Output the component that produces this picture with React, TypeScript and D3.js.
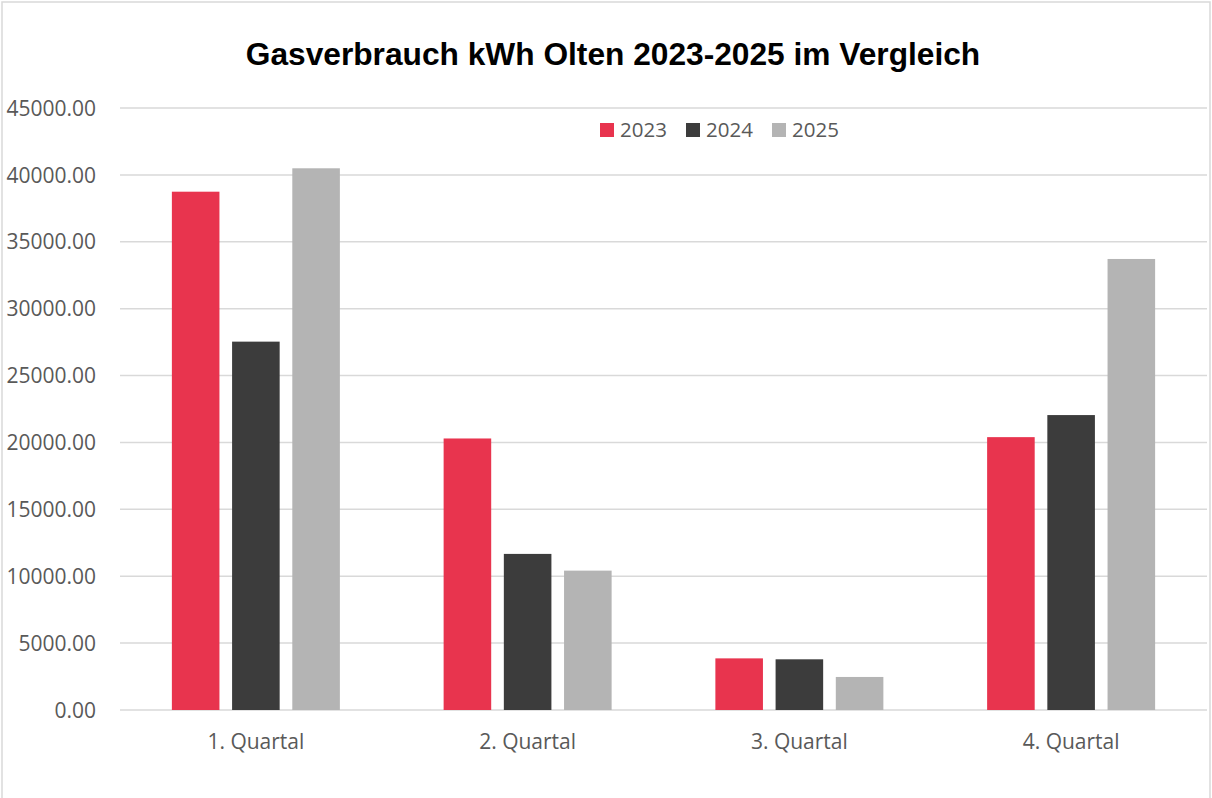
import React, { useEffect, useRef } from 'react'
import * as d3 from 'd3'

const quarters = ['1. Quartal', '2. Quartal', '3. Quartal', '4. Quartal']
const years = ['2023', '2024', '2025']
const values2023 = [38750, 20300, 3860, 20400]
const values2024 = [27540, 11670, 3790, 22050]
const values2025 = [40500, 10420, 2470, 33720]
const yTicks = [0, 5000, 10000, 15000, 20000, 25000, 30000, 35000, 40000, 45000]
const colors = ['#E8344E', '#3C3C3C', '#B4B4B4']

const W = 1212
const H = 798

const App = () => {
  const svgRef = useRef<SVGSVGElement>(null)

  useEffect(() => {
    const svg = d3.select(svgRef.current)
    svg.selectAll('*').remove()

    const series = [values2023, values2024, values2025]
    const data = quarters.map((q, i) => ({
      quarter: q,
      vals: years.map((y, j) => ({ year: y, value: series[j][i], idx: j })),
    }))

    const plot = { left: 120, right: 1207, top: 108.1, bottom: 710 }
    const font = '"Open Sans", sans-serif'

    // chart frame
    svg
      .append('rect')
      .attr('x', 2)
      .attr('y', 2)
      .attr('width', 1208)
      .attr('height', 820)
      .attr('fill', '#fff')
      .attr('stroke', '#D9D9D9')
      .attr('stroke-width', 1.5)

    const x0 = d3.scaleBand().domain(quarters).range([plot.left, plot.right])
    const groupW = 168
    const x1 = d3
      .scaleBand()
      .domain(years)
      .range([0, groupW])
      .paddingInner(0.21)
    const y = d3.scaleLinear().domain([0, 45000]).range([plot.bottom, plot.top])

    // gridlines
    svg
      .append('g')
      .selectAll('line')
      .data(yTicks)
      .enter()
      .append('line')
      .attr('x1', plot.left)
      .attr('x2', plot.right)
      .attr('y1', (d) => y(d))
      .attr('y2', (d) => y(d))
      .attr('stroke', '#D9D9D9')
      .attr('stroke-width', 1.5)

    // y labels
    svg
      .append('g')
      .selectAll('text')
      .data(yTicks)
      .enter()
      .append('text')
      .attr('x', 96)
      .attr('y', (d) => y(d))
      .attr('dy', '0.36em')
      .attr('text-anchor', 'end')
      .attr('font-family', font)
      .attr('font-size', 21)
      .attr('fill', '#595959')
      .text((d) => d3.format('.2f')(d))

    // bars
    const groups = svg
      .append('g')
      .selectAll('g')
      .data(data)
      .enter()
      .append('g')
      .attr(
        'transform',
        (d) =>
          `translate(${x0(d.quarter)! + x0.bandwidth() / 2 - groupW / 2}, 0)`
      )

    groups
      .selectAll('rect')
      .data((d) => d.vals)
      .enter()
      .append('rect')
      .attr('x', (d) => x1(d.year)!)
      .attr('width', x1.bandwidth())
      .attr('y', (d) => y(d.value))
      .attr('height', (d) => y(0) - y(d.value))
      .attr('fill', (d) => colors[d.idx])

    // x labels
    svg
      .append('g')
      .selectAll('text')
      .data(quarters)
      .enter()
      .append('text')
      .attr('x', (d) => x0(d)! + x0.bandwidth() / 2)
      .attr('y', 749)
      .attr('text-anchor', 'middle')
      .attr('font-family', font)
      .attr('font-size', 21)
      .attr('fill', '#595959')
      .text((d) => d)

    // title
    svg
      .append('text')
      .attr('x', 613)
      .attr('y', 65)
      .attr('text-anchor', 'middle')
      .attr('font-family', '"Liberation Sans", Arial, sans-serif')
      .attr('font-weight', 'bold')
      .attr('font-size', 31.7)
      .attr('fill', '#000')
      .text('Gasverbrauch kWh Olten 2023-2025 im Vergleich')

    // legend
    const legendX = [600, 686, 772]
    const legend = svg
      .append('g')
      .selectAll('g')
      .data(years)
      .enter()
      .append('g')
      .attr('transform', (d, i) => `translate(${legendX[i]}, 130)`)
    legend
      .append('rect')
      .attr('x', 0)
      .attr('y', -7)
      .attr('width', 14)
      .attr('height', 14)
      .attr('fill', (d, i) => colors[i])
    legend
      .append('text')
      .attr('x', 20)
      .attr('y', 0)
      .attr('dy', '0.36em')
      .attr('font-family', font)
      .attr('font-size', 20.5)
      .attr('fill', '#595959')
      .text((d) => d)
  }, [])

  return (
    <svg
      ref={svgRef}
      width={W}
      height={H}
      style={{ position: 'absolute', left: 0, top: 0, background: '#fff' }}
    ></svg>
  )
}

export default App
